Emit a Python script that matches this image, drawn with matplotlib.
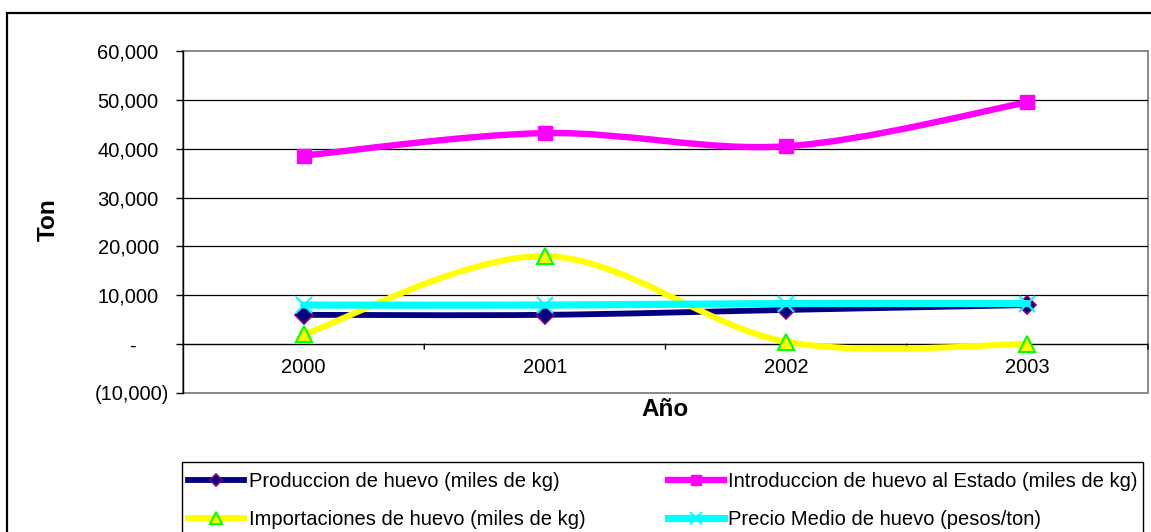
"""
Egg production / import chart (2000-2003), Excel-style line chart with
smoothed series and an accounting-format value axis.
"""

import matplotlib
matplotlib.use('Agg')
import matplotlib.pyplot as plt
from matplotlib.lines import Line2D
from matplotlib.patches import PathPatch, Rectangle
from matplotlib.path import Path
from matplotlib.ticker import FixedLocator, FuncFormatter
import matplotlib.transforms as mtransforms

plt.rcParams['font.family'] = ['Liberation Sans', 'DejaVu Sans']

# ---------------------------------------------------------------------
# Data
# ---------------------------------------------------------------------
years = ['2000', '2001', '2002', '2003']

produccion = [6000, 6000, 7000, 8000]
introduccion = [38600, 43200, 40500, 49500]
importaciones = [2000, 18000, 500, 0]
precio = [8000, 8000, 8300, 8300]

labels = [
    'Produccion de huevo (miles de kg)',
    'Introduccion de huevo al Estado (miles de kg)',
    'Importaciones de huevo (miles de kg)',
    'Precio Medio de huevo (pesos/ton)',
]

y_ticks = [-10000, 0, 10000, 20000, 30000, 40000, 50000, 60000]

# ---------------------------------------------------------------------
# Styles
# ---------------------------------------------------------------------
STYLES = [
    dict(color='#000080', lw=4.2, marker='D', ms=9.5, mfc='#000080', mec='#800080', mew=1.2),
    dict(color='#FF00FF', lw=4.6, marker='s', ms=10, mfc='#FF00FF', mec='#FF00FF', mew=1.0),
    dict(color='#FFFF00', lw=4.4, marker='^', ms=11, mfc='#FFFF00', mec='#00FF00', mew=1.5),
    dict(color='#00FFFF', lw=5.2, marker='x', ms=11, mfc='#00FFFF', mec='#00FFFF', mew=1.5),
]
FS = 14.5        # tick / legend text
FS_TITLE = 17.5  # axis titles


def smooth_path(xs, ys):
    """Excel-like smoothed line: cubic Bezier segments through the points."""
    n = len(xs)
    pts = list(zip(xs, ys))
    verts = [pts[0]]
    codes = [Path.MOVETO]
    for i in range(n - 1):
        p_prev = pts[i - 1] if i > 0 else pts[i]
        p0 = pts[i]
        p1 = pts[i + 1]
        p_next = pts[i + 2] if i + 2 < n else pts[i + 1]
        c1 = (p0[0] + (p1[0] - p_prev[0]) / 6.0, p0[1] + (p1[1] - p_prev[1]) / 6.0)
        c2 = (p1[0] - (p_next[0] - p0[0]) / 6.0, p1[1] - (p_next[1] - p0[1]) / 6.0)
        verts += [c1, c2, p1]
        codes += [Path.CURVE4, Path.CURVE4, Path.CURVE4]
    return Path(verts, codes)


def fmt_accounting(v, pos):
    if abs(v) < 1e-9:
        return '-    '
    if v < 0:
        return f'({abs(v):,.0f})'
    return f'{v:,.0f}'


def main():
    W, H = 1151, 532
    fig = plt.figure(figsize=(W / 100, H / 100), dpi=100)

    # outer chart frame (runs off right and bottom edges)
    fig.patches.append(Rectangle((7 / W, -0.1), 1.2, (H - 13) / H + 0.1,
                                 transform=fig.transFigure, fill=False,
                                 edgecolor='black', linewidth=1.6))

    left, right, top, bottom = 183, 1148, 51, 393
    ax = fig.add_axes([left / W, (H - bottom) / H, (right - left) / W,
                       (bottom - top) / H])

    x = [i + 0.5 for i in range(len(years))]
    series = [produccion, introduccion, importaciones, precio]

    for k, (vals, st) in enumerate(zip(series, STYLES)):
        patch = PathPatch(smooth_path(x, vals), facecolor='none',
                          edgecolor=st['color'], linewidth=st['lw'],
                          capstyle='round', joinstyle='round', zorder=3 + k)
        ax.add_patch(patch)
        ax.plot(x, vals, linestyle='none', marker=st['marker'],
                markersize=st['ms'], markerfacecolor=st['mfc'],
                markeredgecolor=st['mec'], markeredgewidth=st['mew'],
                zorder=3.5 + k, clip_on=False)

    ax.set_xlim(0, len(years))
    ax.set_ylim(-10000, 60000)

    # gridlines
    for yv in y_ticks[2:-1]:
        ax.axhline(yv, color='black', linewidth=0.9, zorder=1)

    # plot-area border (gray) and axes lines
    for s in ['top', 'right', 'bottom']:
        ax.spines[s].set_visible(False)
    ax.add_patch(Rectangle((0, 0), 1, 1, transform=ax.transAxes, fill=False,
                           edgecolor='#808080', linewidth=1.3, zorder=0.5,
                           clip_on=False))
    ax.spines['left'].set_color('black')
    ax.spines['left'].set_linewidth(1.0)
    ax.axhline(0, color='black', linewidth=1.0, zorder=2)

    # y axis: accounting format
    ax.yaxis.set_major_locator(FixedLocator(y_ticks))
    ax.yaxis.set_major_formatter(FuncFormatter(fmt_accounting))
    ax.tick_params(axis='y', direction='out', length=5, width=1.0,
                   labelsize=FS, pad=12.5)
    fig.canvas.draw()
    for t in ax.yaxis.get_major_ticks():
        if t.get_loc() < 0:
            off = mtransforms.ScaledTranslation(10 / 100, 0, fig.dpi_scale_trans)
            t.label1.set_transform(t.label1.get_transform() + off)

    # x axis: ticks on the zero line between categories, labels centred
    ax.set_xticks([])
    for xv in range(1, len(years) + 1):
        ax.annotate('', xy=(xv, 0), xycoords='data', xytext=(0, -5),
                    textcoords='offset pixels',
                    arrowprops=dict(arrowstyle='-', color='black', lw=1.0,
                                    shrinkA=0, shrinkB=0))
    for xv, lab in zip(x, years):
        ax.annotate(lab, xy=(xv, 0), xycoords='data', xytext=(0, -23),
                    textcoords='offset pixels', ha='center', va='center',
                    fontsize=FS)

    # axis titles
    fig.text(48 / W, 1 - 220 / H, 'Ton', rotation=90, ha='center',
             va='center', fontsize=FS_TITLE, fontweight='bold')
    fig.text(665 / W, 1 - 410 / H, 'Año', ha='center', va='center',
             fontsize=FS_TITLE, fontweight='bold')

    # legend box (runs off the bottom edge)
    fig.patches.append(Rectangle((182 / W, -0.1), (1143 - 182) / W,
                                 (H - 462) / H + 0.1,
                                 transform=fig.transFigure, fill=False,
                                 edgecolor='black', linewidth=1.0))

    handles = []
    for st in STYLES:
        handles.append(Line2D([], [], color=st['color'], linewidth=st['lw'],
                              marker=st['marker'], markersize=st['ms'] - 3,
                              markerfacecolor=st['mfc'],
                              markeredgecolor=st['mec'],
                              markeredgewidth=st['mew']))
    order = [0, 2, 1, 3]
    fig.legend([handles[i] for i in order], [labels[i] for i in order],
               ncol=2, loc='upper left',
               bbox_to_anchor=(174 / W, 1 - 458 / H),
               frameon=False, fontsize=FS, handlelength=2.8,
               handletextpad=0.2, columnspacing=4.1,
               labelspacing=0.95, borderpad=0.2)

    fig.savefig('out.png', dpi=100)
    plt.close(fig)


if __name__ == '__main__':
    main()
